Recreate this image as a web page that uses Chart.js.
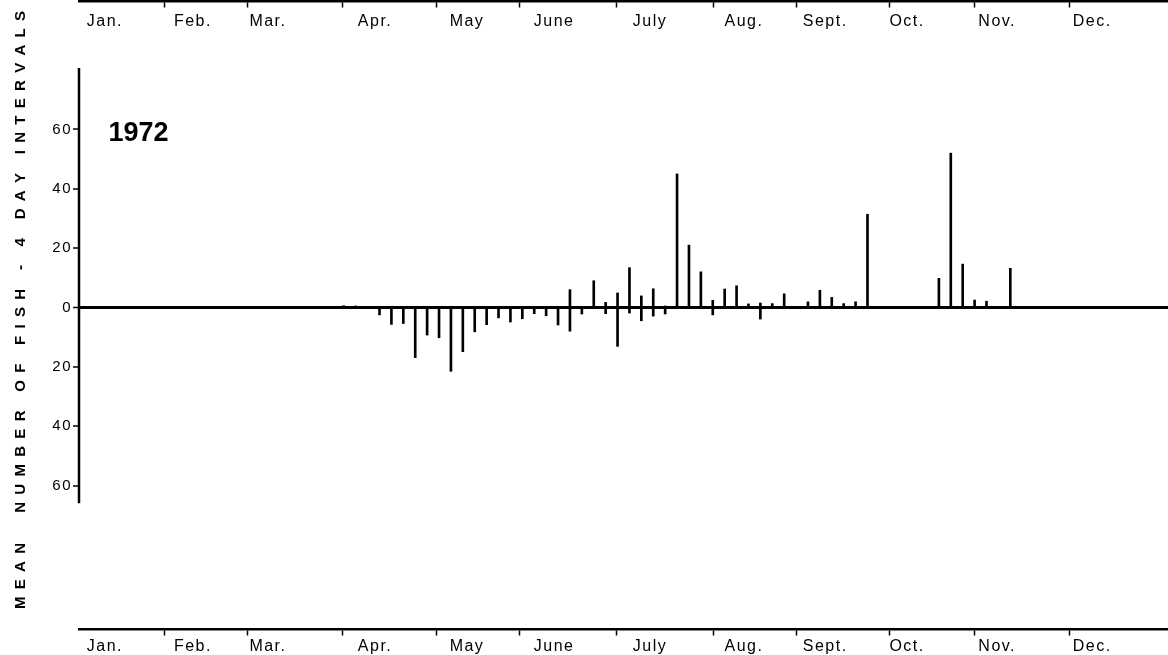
<!DOCTYPE html>
<html>
<head>
<meta charset="utf-8">
<title>Mean number of fish, 4-day intervals, 1972</title>
<script src="https://cdn.jsdelivr.net/npm/chart.js@4/dist/chart.umd.min.js"></script>
<style>
  html, body { margin: 0; padding: 0; background: #fff; }
  #wrap { width: 1168px; height: 655px; position: relative; }
</style>
</head>
<body>
<div id="wrap"><canvas id="chart"></canvas></div>
<script>
// Day of year (1972) at the centre of each 4-day sampling interval
const DAYS = [89, 93, 97, 101, 105, 109, 113, 117, 121, 125, 129, 133, 137, 141, 145,
  149, 153, 157, 161, 165, 169, 173, 177, 181, 185, 189, 193, 197, 201, 205, 209,
  213, 217, 221, 225, 229, 233, 237, 241, 245, 249, 253, 257, 261, 265, 269, 273,
  277, 281, 285, 289, 293, 297, 301, 305, 309, 313];

// Mean fish per interval moving upstream (drawn above the zero line)
const UPSTREAM = [0.6, 0.4, 0, 0, 0, 0, 0, 0, 0, 0, 0, 0, 0, 0, 0,
  0, 0, 0, 0, 6, 0, 9, 1.7, 4.9, 13.4, 3.9, 6.3, 0.5, 45, 21, 12,
  2.4, 6.2, 7.3, 1.2, 1.5, 1.3, 4.6, 0, 1.9, 5.8, 3.4, 1.3, 1.9, 31.4, 0, 0,
  0, 0, 0, 9.8, 52, 14.6, 2.5, 2.1, 0, 13.2];

// Mean fish per interval moving downstream (drawn below the zero line)
const DOWNSTREAM = [0, 0, 0, -2.5, -5.7, -5.4, -16.9, -9.3, -10.2, -21.5, -14.9, -8.2, -5.8, -3.5, -4.9,
  -3.8, -2.1, -2.8, -5.9, -8, -2.2, 0, -2.1, -13.1, -1.9, -4.5, -2.9, -2.2, 0, 0, 0,
  -2.5, 0, 0, 0, -3.9, 0, 0, 0, 0, 0, 0, 0, 0, 0, 0, 0,
  0, 0, 0, 0, 0, 0, 0, 0, 0, 0];

// Month names and where they sit along the day-of-year axis
const MONTHS = ['Jan.', 'Feb.', 'Mar.', 'Apr.', 'May', 'June', 'July', 'Aug.', 'Sept.', 'Oct.', 'Nov.', 'Dec.'];
const MONTH_LABEL_DAYS = [8.7, 38.3, 63.5, 99.5, 130.4, 159.7, 191.9, 223.5, 250.8, 278.3, 308.6, 340.5];
const MONTH_TICK_DAYS = [28.9, 56.5, 88.4, 120, 148.2, 180.5, 213.1, 241, 272.3, 300.8, 332.8];

// Vertical axis tick values (labels show magnitude both ways)
const Y_TICKS = [60, 40, 20, 0, -20, -40, -60];

const YEAR_LABEL = '1972';
const Y_TITLE = 'MEAN  NUMBER OF FISH - 4 DAY INTERVALS';

// Scale extents and axis placement, in data units
const X_MIN = 0, X_MAX = 366;
const Y_MIN = -117.1, Y_MAX = 103.6;
const TOP_AXIS_Y = 103.1, BOTTOM_AXIS_Y = -108.4;
const Y_LINE_TOP = 80.7, Y_LINE_BOTTOM = -66;
const YEAR_POS = { x: 20, y: 58.7 };

const FONT = "'Liberation Sans', Arial, sans-serif";

const fixedTicks = values => scale => { scale.ticks = values.map(v => ({ value: v })); };
const noEdgePadding = scale => {
  scale.paddingTop = 0; scale.paddingBottom = 0;
  scale.paddingLeft = 0; scale.paddingRight = 0;
};

const decor = {
  id: 'decor',
  beforeDraw(chart) {
    // wide tracking for the axis lettering
    chart.ctx.letterSpacing = '1.5px';
  },
  afterDraw(chart) {
    const { ctx, chartArea, scales } = chart;
    const xs = scales.x, ys = scales.y;
    ctx.save();
    ctx.letterSpacing = '0px';

    // vertical value axis, only over the labelled range
    ctx.strokeStyle = '#000';
    ctx.lineWidth = 2.5;
    ctx.beginPath();
    ctx.moveTo(chartArea.left, ys.getPixelForValue(Y_LINE_TOP));
    ctx.lineTo(chartArea.left, ys.getPixelForValue(Y_LINE_BOTTOM));
    ctx.stroke();

    // year label
    ctx.fillStyle = '#000';
    ctx.font = 'bold 27px ' + FONT;
    ctx.textAlign = 'center';
    ctx.textBaseline = 'middle';
    ctx.fillText(YEAR_LABEL, xs.getPixelForValue(YEAR_POS.x), ys.getPixelForValue(YEAR_POS.y));

    // rotated, letter-spaced axis title running up the left edge
    ctx.font = 'bold 15px ' + FONT;
    ctx.textAlign = 'left';
    const chars = Array.from(Y_TITLE);
    const widths = chars.map(c => ctx.measureText(c).width);
    const span = 598;
    const gap = (span - widths.reduce((a, b) => a + b, 0)) / (chars.length - 1);
    ctx.translate(21, 609);
    ctx.rotate(-Math.PI / 2);
    let pos = 0;
    chars.forEach((c, i) => {
      ctx.fillText(c, pos, 0);
      pos += widths[i] + gap;
    });
    ctx.restore();
  }
};

const barStyle = {
  type: 'bar',
  backgroundColor: '#000',
  borderWidth: 0,
  barThickness: 2,
  grouped: false
};

const dayAxisBase = () => ({
  type: 'linear',
  min: X_MIN, max: X_MAX,
  offset: false,
  afterFit: noEdgePadding
});

const monthTickAxis = yValue => Object.assign(dayAxisBase(), {
  position: { y: yValue },
  afterBuildTicks: fixedTicks(MONTH_TICK_DAYS),
  ticks: { display: false },
  grid: { offset: false, drawOnChartArea: false, drawTicks: true, tickLength: 5, tickColor: '#000', tickWidth: 1.5 },
  border: { display: true, color: '#000', width: 2.5 }
});

const monthLabelAxis = (yValue, pad) => Object.assign(dayAxisBase(), {
  position: { y: yValue },
  afterBuildTicks: fixedTicks(MONTH_LABEL_DAYS),
  ticks: {
    autoSkip: false, maxRotation: 0, padding: pad, color: '#000',
    font: { family: FONT, size: 16 },
    callback: (v, i) => MONTHS[i]
  },
  grid: { offset: false, display: false, drawTicks: false },
  border: { display: false }
});

new Chart(document.getElementById('chart'), {
  type: 'bar',
  data: {
    datasets: [
      Object.assign({ label: 'Upstream', data: DAYS.map((d, i) => ({ x: d, y: UPSTREAM[i] })) }, barStyle),
      Object.assign({ label: 'Downstream', data: DAYS.map((d, i) => ({ x: d, y: DOWNSTREAM[i] })) }, barStyle)
    ]
  },
  options: {
    responsive: true,
    maintainAspectRatio: false,
    animation: false,
    layout: { padding: 0 },
    plugins: { legend: { display: false }, tooltip: { enabled: false } },
    scales: {
      x: Object.assign(dayAxisBase(), { display: false, grid: { offset: false } }),
      y: {
        type: 'linear',
        position: 'left',
        min: Y_MIN, max: Y_MAX,
        afterFit: s => { noEdgePadding(s); s.width = 79; },
        afterBuildTicks: fixedTicks(Y_TICKS),
        ticks: {
          autoSkip: false, padding: 1, color: '#000',
          font: { family: FONT, size: 15 },
          callback: v => Math.abs(v)
        },
        grid: {
          drawOnChartArea: true,
          color: c => (c.tick && c.tick.value === 0 ? '#000' : 'rgba(0,0,0,0)'),
          lineWidth: c => (c.tick && c.tick.value === 0 ? 3 : 0),
          tickColor: '#000', tickWidth: 1.5, tickLength: 6
        },
        border: { display: false }
      },
      xTop: monthTickAxis(TOP_AXIS_Y),
      xTopLabels: monthLabelAxis(TOP_AXIS_Y, 11),
      xBottom: monthTickAxis(BOTTOM_AXIS_Y),
      xBottomLabels: monthLabelAxis(BOTTOM_AXIS_Y, 8)
    }
  },
  plugins: [decor]
});
</script>
</body>
</html>
